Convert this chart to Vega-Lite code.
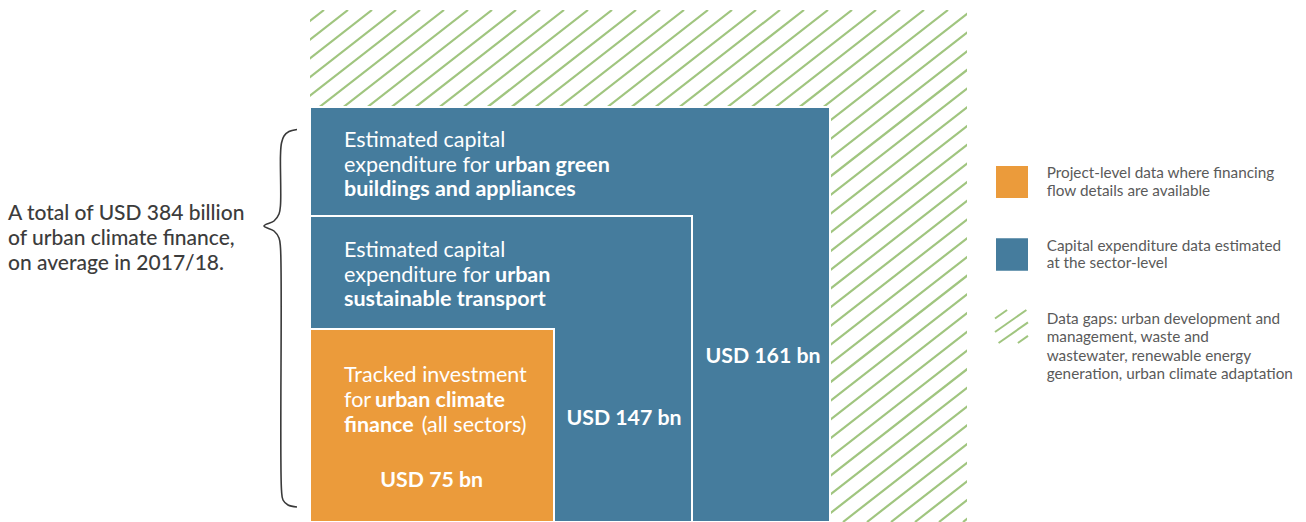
{
  "$schema": "https://vega.github.io/schema/vega-lite/v6.json",
  "width": 657,
  "height": 512,
  "autosize": {"type": "none"},
  "padding": {"left": 310, "top": 10, "right": 339, "bottom": 0},
  "background": "white",
  "config": {"view": {"stroke": null}},
  "encoding": {
    "x": {"field": "x", "type": "quantitative", "scale": {"domain": [0, 657], "nice": false, "zero": false}, "axis": null},
    "y": {"field": "y", "type": "quantitative", "scale": {"domain": [0, 512], "nice": false, "zero": false}, "axis": null}
  },
  "layer": [
    {
      "data": {"values": [
        {"x": -643, "x2": 14, "y": 0, "y2": 512}, {"x": -619, "x2": 38, "y": 0, "y2": 512}, {"x": -595, "x2": 62, "y": 0, "y2": 512}, {"x": -571, "x2": 86, "y": 0, "y2": 512},
        {"x": -547, "x2": 110, "y": 0, "y2": 512}, {"x": -523, "x2": 134, "y": 0, "y2": 512}, {"x": -499, "x2": 158, "y": 0, "y2": 512}, {"x": -475, "x2": 182, "y": 0, "y2": 512},
        {"x": -451, "x2": 206, "y": 0, "y2": 512}, {"x": -427, "x2": 230, "y": 0, "y2": 512}, {"x": -403, "x2": 254, "y": 0, "y2": 512}, {"x": -379, "x2": 278, "y": 0, "y2": 512},
        {"x": -355, "x2": 302, "y": 0, "y2": 512}, {"x": -331, "x2": 326, "y": 0, "y2": 512}, {"x": -307, "x2": 350, "y": 0, "y2": 512}, {"x": -283, "x2": 374, "y": 0, "y2": 512},
        {"x": -259, "x2": 398, "y": 0, "y2": 512}, {"x": -235, "x2": 422, "y": 0, "y2": 512}, {"x": -211, "x2": 446, "y": 0, "y2": 512}, {"x": -187, "x2": 470, "y": 0, "y2": 512},
        {"x": -163, "x2": 494, "y": 0, "y2": 512}, {"x": -139, "x2": 518, "y": 0, "y2": 512}, {"x": -115, "x2": 542, "y": 0, "y2": 512}, {"x": -91, "x2": 566, "y": 0, "y2": 512},
        {"x": -67, "x2": 590, "y": 0, "y2": 512}, {"x": -43, "x2": 614, "y": 0, "y2": 512}, {"x": -19, "x2": 638, "y": 0, "y2": 512}, {"x": 5, "x2": 662, "y": 0, "y2": 512},
        {"x": 29, "x2": 686, "y": 0, "y2": 512}, {"x": 53, "x2": 710, "y": 0, "y2": 512}, {"x": 77, "x2": 734, "y": 0, "y2": 512}, {"x": 101, "x2": 758, "y": 0, "y2": 512},
        {"x": 125, "x2": 782, "y": 0, "y2": 512}, {"x": 149, "x2": 806, "y": 0, "y2": 512}, {"x": 173, "x2": 830, "y": 0, "y2": 512}, {"x": 197, "x2": 854, "y": 0, "y2": 512},
        {"x": 221, "x2": 878, "y": 0, "y2": 512}, {"x": 245, "x2": 902, "y": 0, "y2": 512}, {"x": 269, "x2": 926, "y": 0, "y2": 512}, {"x": 293, "x2": 950, "y": 0, "y2": 512},
        {"x": 317, "x2": 974, "y": 0, "y2": 512}, {"x": 341, "x2": 998, "y": 0, "y2": 512}, {"x": 365, "x2": 1022, "y": 0, "y2": 512}, {"x": 389, "x2": 1046, "y": 0, "y2": 512},
        {"x": 413, "x2": 1070, "y": 0, "y2": 512}, {"x": 437, "x2": 1094, "y": 0, "y2": 512}, {"x": 461, "x2": 1118, "y": 0, "y2": 512}, {"x": 485, "x2": 1142, "y": 0, "y2": 512},
        {"x": 509, "x2": 1166, "y": 0, "y2": 512}, {"x": 533, "x2": 1190, "y": 0, "y2": 512}, {"x": 557, "x2": 1214, "y": 0, "y2": 512}, {"x": 581, "x2": 1238, "y": 0, "y2": 512},
        {"x": 605, "x2": 1262, "y": 0, "y2": 512}, {"x": 629, "x2": 1286, "y": 0, "y2": 512}, {"x": 653, "x2": 1310, "y": 0, "y2": 512}
      ]},
      "mark": {"type": "rule", "clip": true, "color": "#a0c57f", "strokeWidth": 2.2},
      "encoding": {
        "x2": {"field": "x2"},
        "y2": {"field": "y2"}
      }
    },
    {
      "data": {"values": [
        {"block": "161", "x": 0, "x2": 520, "y": 0, "y2": 415, "kind": "sector"},
        {"block": "147", "x": 0, "x2": 382, "y": 0, "y2": 306, "kind": "sector"},
        {"block": "75", "x": 0, "x2": 244, "y": 0, "y2": 193, "kind": "project"},
        {"block": "legend-project", "x": 685, "x2": 719, "y": 323, "y2": 357, "kind": "project"},
        {"block": "legend-sector", "x": 685, "x2": 719, "y": 250.3, "y2": 284.7, "kind": "sector"}
      ]},
      "mark": {"type": "rect", "stroke": "white", "strokeWidth": 2},
      "encoding": {
        "x2": {"field": "x2"},
        "y2": {"field": "y2"},
        "fill": {"field": "kind", "type": "nominal", "scale": {"domain": ["project", "sector"], "range": ["#eb9b3b", "#457c9d"]}, "legend": null}
      }
    },
    {
      "data": {"values": [
        {"x": 685, "y": 203.5, "x2": 697.1, "y2": 212},
        {"x": 685, "y": 190, "x2": 716.4, "y2": 212},
        {"x": 688.6, "y": 179, "x2": 718, "y2": 199.6},
        {"x": 707.9, "y": 179, "x2": 718, "y2": 186.1}
      ]},
      "mark": {"type": "rule", "color": "#a0c57f", "strokeWidth": 2},
      "encoding": {"x2": {"field": "x2"}, "y2": {"field": "y2"}}
    },
    {
      "data": {"values": [
        {"i": 1, "x": -13, "y": 392.5}, {"i": 2, "x": -21, "y": 390.5}, {"i": 3, "x": -26, "y": 386},
        {"i": 4, "x": -28.5, "y": 379}, {"i": 5, "x": -29.5, "y": 367}, {"i": 6, "x": -29.5, "y": 317},
        {"i": 7, "x": -31, "y": 308}, {"i": 8, "x": -36, "y": 301}, {"i": 9, "x": -46, "y": 296},
        {"i": 10, "x": -36, "y": 291}, {"i": 11, "x": -31, "y": 284}, {"i": 12, "x": -29.5, "y": 274},
        {"i": 13, "x": -28.5, "y": 32}, {"i": 14, "x": -27, "y": 22}, {"i": 15, "x": -22, "y": 17},
        {"i": 16, "x": -13, "y": 15}
      ]},
      "mark": {"type": "line", "color": "#3a3a3a", "strokeWidth": 1.6, "interpolate": "catmull-rom"},
      "encoding": {"order": {"field": "i", "type": "quantitative"}}
    },
    {
      "data": {"values": [
        {"t": "Estimated capital", "x": 34, "y": 375.3},
        {"t": "expenditure for", "x": 34, "y": 350.3},
        {"t": "Estimated capital", "x": 34, "y": 265.3},
        {"t": "expenditure for", "x": 34, "y": 240.3},
        {"t": "Tracked investment", "x": 34, "y": 140.3},
        {"t": "for", "x": 34, "y": 115.3},
        {"t": "(all sectors)", "x": 111.7, "y": 90.3}
      ]},
      "mark": {"type": "text", "align": "left", "baseline": "alphabetic", "font": "Lato", "fontSize": 21.5, "color": "white"},
      "encoding": {"text": {"field": "t"}}
    },
    {
      "data": {"values": [
        {"t": "urban green", "x": 185, "y": 350.3},
        {"t": "buildings and appliances", "x": 34, "y": 326},
        {"t": "urban", "x": 185, "y": 240.3},
        {"t": "sustainable transport", "x": 34, "y": 216},
        {"t": "urban climate", "x": 65, "y": 115.3},
        {"t": "finance", "x": 34, "y": 90.3}
      ]},
      "mark": {"type": "text", "align": "left", "baseline": "alphabetic", "font": "Lato", "fontSize": 21.5, "fontWeight": "bold", "color": "white"},
      "encoding": {"text": {"field": "t"}}
    },
    {
      "data": {"values": [
        {"t": "USD 161 bn", "x": 453, "y": 158.7},
        {"t": "USD 147 bn", "x": 314, "y": 97},
        {"t": "USD 75 bn", "x": 121.7, "y": 34.7}
      ]},
      "mark": {"type": "text", "align": "center", "baseline": "alphabetic", "font": "Lato", "fontSize": 21.3, "fontWeight": "bold", "color": "white"},
      "encoding": {"text": {"field": "t"}}
    },
    {
      "data": {"values": [
        {"t": "A total of USD 384 billion", "x": -302, "y": 302},
        {"t": "of urban climate finance,", "x": -302, "y": 277},
        {"t": "on average in 2017/18.", "x": -302, "y": 252}
      ]},
      "mark": {"type": "text", "align": "left", "baseline": "alphabetic", "font": "Lato", "fontSize": 21, "fontWeight": 500, "color": "#3c3c3c"},
      "encoding": {"text": {"field": "t"}}
    },
    {
      "data": {"values": [
        {"t": "Project-level data where financing", "x": 736.7, "y": 343.7},
        {"t": "flow details are available", "x": 736.7, "y": 326.3},
        {"t": "Capital expenditure data estimated", "x": 736.7, "y": 271},
        {"t": "at the sector-level", "x": 736.7, "y": 253.7},
        {"t": "Data gaps: urban development and", "x": 736.7, "y": 198},
        {"t": "management, waste and", "x": 736.7, "y": 179.7},
        {"t": "wastewater, renewable energy", "x": 736.7, "y": 161.3},
        {"t": "generation, urban climate adaptation", "x": 736.7, "y": 143}
      ]},
      "mark": {"type": "text", "align": "left", "baseline": "alphabetic", "font": "Lato", "fontSize": 15.3, "color": "#5a5a5a"},
      "encoding": {"text": {"field": "t"}}
    }
  ]
}
